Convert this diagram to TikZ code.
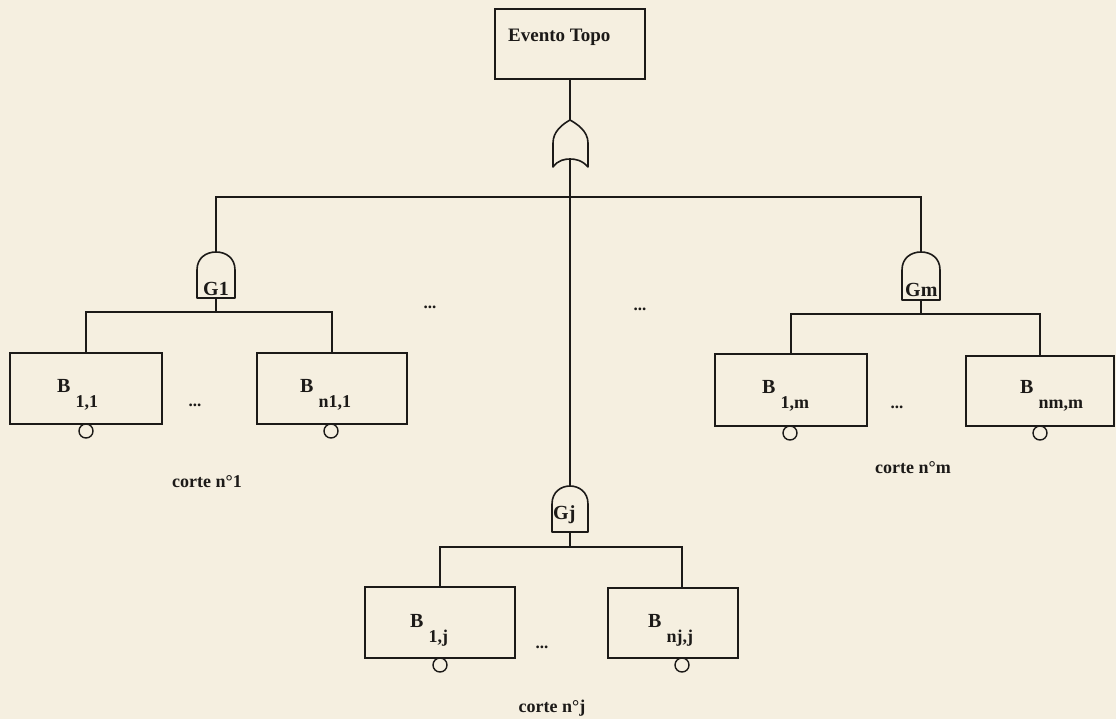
\documentclass[tikz,border=0pt]{standalone}
\usepackage{fontspec}
\setmainfont{Liberation Serif}
\definecolor{paper}{RGB}{245,239,224}
\definecolor{ink}{RGB}{28,26,24}
\tikzset{
  box/.style={draw=ink, line width=1.6pt, rectangle, inner sep=0pt, outer sep=0pt},
  pin/.style={circle, draw=ink, line width=1.4pt, minimum size=14pt, inner sep=0pt, outer sep=0pt, fill=paper, anchor=north},
  blab/.style={font=\bfseries\fontsize{20}{20}\selectfont, inner sep=0pt, anchor=base west, text=ink},
  glab/.style={font=\bfseries\fontsize{20}{20}\selectfont, inner sep=0pt, anchor=base west, text=ink},
  title/.style={font=\bfseries\fontsize{19}{19}\selectfont, inner sep=0pt, anchor=base west, text=ink},
  cut/.style={font=\bfseries\fontsize{18}{18}\selectfont, inner sep=0pt, text=ink},
  dots/.style={font=\bfseries\fontsize{17}{17}\selectfont, inner sep=0pt, text=ink},
  wire/.style={draw=ink, line width=1.6pt},
  gate/.style={draw=ink, line width=1.6pt, fill=paper, line join=round}
}
\newcommand{\bsub}[2]{#1\hspace{5pt}\raisebox{-15pt}{\fontsize{18}{18}\selectfont #2}}
\begin{document}
\begin{tikzpicture}[x=1pt,y=-1pt]
\fill[paper] (0,0) rectangle (1116,719);
\useasboundingbox (0,0) rectangle (1116,719);

% top event
\node[box, minimum width=150pt, minimum height=70pt] (top) at (570,44) {};
\node[title] (toptxt) at (508,42) {Evento Topo};

% OR gate
\coordinate (ortop) at (570,120);
\coordinate (orbot) at (570,159);
\draw[gate] (553,167) -- (553,143) .. controls (553,131) and (563,124) .. (ortop)
  .. controls (577,124) and (588,131) .. (588,143) -- (588,167)
  .. controls (582,160) and (575,159) .. (orbot)
  .. controls (565,159) and (558,160) .. (553,167) -- cycle;

% AND gates
\coordinate (g1top) at (216,252); \coordinate (g1bot) at (216,298);
\coordinate (gmtop) at (921,252); \coordinate (gmbot) at (921,300);
\coordinate (gjtop) at (570,486); \coordinate (gjbot) at (570,532);
\draw[gate] (197,298) -- (197,270) .. controls (197,258) and (206,252) .. (g1top)
  .. controls (226,252) and (235,258) .. (235,270) -- (235,298) -- cycle;
\draw[gate] (902,300) -- (902,270) .. controls (902,258) and (911,252) .. (gmtop)
  .. controls (931,252) and (940,258) .. (940,270) -- (940,300) -- cycle;
\draw[gate] (552,532) -- (552,504) .. controls (552,492) and (561,486) .. (gjtop)
  .. controls (579,486) and (588,492) .. (588,504) -- (588,532) -- cycle;
\node[glab] (g1l) at (203,295) {G1};
\node[glab] (gml) at (905,297) {Gm};
\node[glab] (gjl) at (553,519) {Gj};

% basic event boxes
\node[box, minimum width=152pt, minimum height=71pt] (b11) at (86,388.5) {};
\node[box, minimum width=150pt, minimum height=71pt] (bn11) at (332,388.5) {};
\node[box, minimum width=152pt, minimum height=72pt] (b1m) at (791,390) {};
\node[box, minimum width=148pt, minimum height=70pt] (bnmm) at (1040,391) {};
\node[box, minimum width=150pt, minimum height=71pt] (b1j) at (440,622.5) {};
\node[box, minimum width=130pt, minimum height=70pt] (bnjj) at (673,623) {};

% pins
\node[pin] (c11) at (86,424) {};
\node[pin] (cn11) at (331,424) {};
\node[pin] (c1m) at (790,426) {};
\node[pin] (cnmm) at (1040,426) {};
\node[pin] (c1j) at (440,658) {};
\node[pin] (cnjj) at (682,658) {};

% labels
\node[blab] (l11) at (57,392) {\bsub{B}{1,1}};
\node[blab] (ln11) at (300,392) {\bsub{B}{n1,1}};
\node[blab] (l1m) at (762,393) {\bsub{B}{1,m}};
\node[blab] (lnmm) at (1020,393) {\bsub{B}{nm,m}};
\node[blab] (l1j) at (410,627) {\bsub{B}{1,j}};
\node[blab] (lnjj) at (648,627) {\bsub{B}{nj,j}};

% connectors
\coordinate (hub) at (570,197);
\coordinate (bar1) at (216,312);
\coordinate (barm) at (921,314);
\coordinate (barj) at (570,547);
\draw[wire] (top.south) -- (ortop);
\draw[wire] (orbot) -- (gjtop);
\draw[wire] (g1top) |- (hub) -| (gmtop);
\draw[wire] (g1bot) -- (bar1);
\draw[wire] (b11.north) |- (bar1) -| (bn11.north);
\draw[wire] (gmbot) -- (barm);
\draw[wire] (b1m.north) |- (barm) -| (bnmm.north);
\draw[wire] (gjbot) -- (barj);
\draw[wire] (b1j.north) |- (barj) -| (bnjj.north -| cnjj);

% ellipses
\node[dots] (d1) at (195,405) {...};
\node[dots] (d2) at (897,407) {...};
\node[dots] (d3) at (542,647) {...};
\node[dots] (d4) at (430,307) {...};
\node[dots] (d5) at (640,309) {...};

% cut labels
\node[cut] (k1) at (207,482) {corte n°1};
\node[cut] (km) at (913,468) {corte n°m};
\node[cut] (kj) at (552,708) {corte n°j};
\end{tikzpicture}
\end{document}
